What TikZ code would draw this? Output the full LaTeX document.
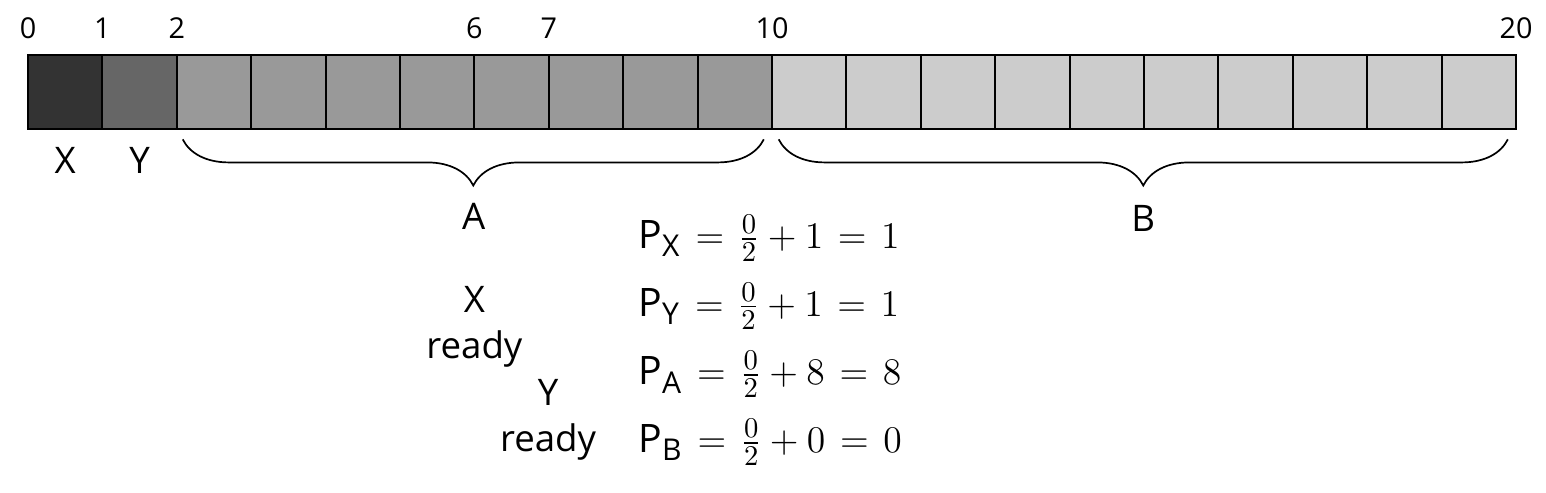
\documentclass[tikz,border=0pt]{standalone}
\usepackage{amsmath}
\usepackage{fontspec}
\setmainfont{Open Sans}
\usetikzlibrary{decorations.pathreplacing}

\definecolor{xcell}{HTML}{333333}
\definecolor{ycell}{HTML}{666666}
\definecolor{acell}{HTML}{999999}
\definecolor{bcell}{HTML}{CCCCCC}

\newcommand{\prio}[1]{\text{P}_{\text{\fontsize{11.5}{13}\selectfont #1}}}
\thickmuskip=7mu plus 5mu

\tikzset{
    cell/.style={draw=black, line width=0.75pt, minimum size=1cm, inner sep=0pt, outer sep=0pt, anchor=south west},
    ticklbl/.style={font=\fontsize{11}{13}\selectfont, inner sep=0pt},
    lbl/.style={font=\fontsize{14}{17.6}\selectfont, inner sep=0pt, align=center},
    eqn/.style={font=\fontsize{15}{18}\selectfont, inner sep=0pt, anchor=base west},
    brc/.style={decorate, decoration={brace, amplitude=0.62cm, mirror}, line width=0.65pt},
}

\begin{document}
\begin{tikzpicture}
    \useasboundingbox (-0.376, -4.879) rectangle (20.403, 1.739);
    % memory cells
    \node [cell, fill=xcell] (c0) at (0, 0) {};
    \node [cell, fill=ycell] (c1) at (1, 0) {};
    \foreach \i in {2,...,9}
        \node [cell, fill=acell] (c\i) at (\i, 0) {};
    \foreach \i in {10,...,19}
        \node [cell, fill=bcell] (c\i) at (\i, 0) {};
    % offsets
    \foreach \i in {0,1,2,6,7,10,20}
        \node [ticklbl] (t\i) at (\i, 1.36) {\i};
    % names
    \node [lbl, anchor=base] (nx) at (0.5, -0.59) {X};
    \node [lbl, anchor=base] (ny) at (1.5, -0.59) {Y};
    \draw [brc] ([xshift=0.08cm, yshift=-0.134cm]c2.south west) -- ([xshift=-0.11cm, yshift=-0.134cm]c9.south east);
    \draw [brc] ([xshift=0.09cm, yshift=-0.134cm]c10.south west) -- ([xshift=-0.11cm, yshift=-0.134cm]c19.south east);
    \node [lbl, anchor=base] (na) at (5.99, -1.344) {A};
    \node [lbl, anchor=base] (nb) at (14.99, -1.37) {B};
    % ready times
    \node [lbl] (xr) at (6.0, -2.653) {X\\ready};
    \node [lbl] (yr) at (6.99, -3.903) {Y\\ready};
    % priorities
    \node [eqn] (px) at (8.20, -1.60) {$\prio{X} = \frac{0}{2} + 1 = 1$};
    \node [eqn] (py) at (8.20, -2.51) {$\prio{Y} = \frac{0}{2} + 1 = 1$};
    \node [eqn] (pa) at (8.20, -3.43) {$\prio{A} = \frac{0}{2} + 8 = 8$};
    \node [eqn] (pb) at (8.20, -4.34) {$\prio{B} = \frac{0}{2} + 0 = 0$};
\end{tikzpicture}
\end{document}
